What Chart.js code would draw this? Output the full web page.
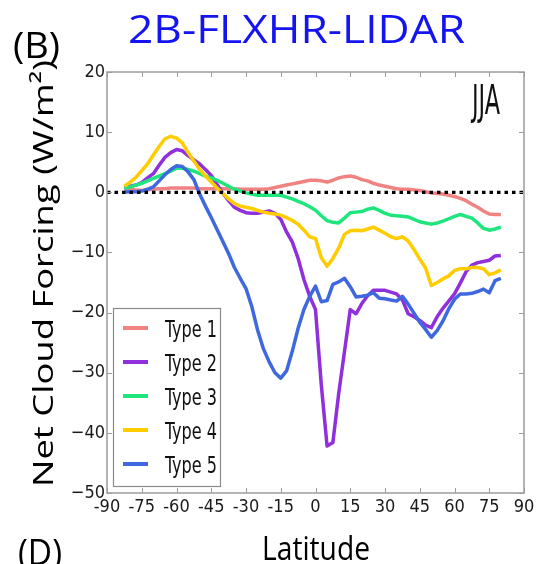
<!DOCTYPE html>
<html>
<head>
<meta charset="utf-8">
<script src="https://cdn.jsdelivr.net/npm/chart.js@4.4.0/dist/chart.umd.min.js"></script>
<style>
  html, body { margin: 0; padding: 0; background: #fff; }
</style>
</head>
<body>
<canvas id="grafico" width="553" height="564"></canvas>
<script>
// Datos (latitud cada 2.5 grados)
const latitudes = [-82.5, -80, -77.5, -75, -72.5, -70, -67.5, -65, -62.5, -60,
  -57.5, -55, -52.5, -50, -47.5, -45, -42.5, -40, -37.5, -35,
  -32.5, -30, -27.5, -25, -22.5, -20, -17.5, -15, -12.5, -10,
  -7.5, -5, -2.5, 0, 2.5, 5, 7.5, 10, 12.5, 15,
  17.5, 20, 22.5, 25, 27.5, 30, 32.5, 35, 37.5, 40,
  42.5, 45, 47.5, 50, 52.5, 55, 57.5, 60, 62.5, 65,
  67.5, 70, 72.5, 75, 77.5, 80];

const tipo1 = [0.6, 0.5, 0.4, 0.3, 0.4, 0.5, 0.6, 0.6, 0.7, 0.7,
  0.7, 0.7, 0.7, 0.6, 0.6, 0.6, 0.6, 0.6, 0.6, 0.6,
  0.5, 0.5, 0.5, 0.5, 0.5, 0.6, 0.8, 1.0, 1.2, 1.4,
  1.6, 1.8, 2.0, 2.0, 1.9, 1.7, 2.0, 2.4, 2.6, 2.7,
  2.5, 2.1, 1.9, 1.5, 1.2, 1.0, 0.8, 0.6, 0.5, 0.5,
  0.4, 0.3, 0.1, -0.1, -0.2, -0.3, -0.5, -0.7, -1.0, -1.4,
  -2.0, -2.5, -3.1, -3.6, -3.7, -3.7];

const tipo2 = [0.7, 1.0, 1.2, 1.6, 2.4, 3.1, 4.5, 5.8, 6.6, 7.1,
  6.9, 6.1, 5.4, 4.7, 3.8, 2.8, 1.3, -0.2, -1.4, -2.5,
  -3.0, -3.4, -3.5, -3.5, -3.3, -3.1, -3.5, -4.5, -6.6, -8.3,
  -11.0, -14.5, -17.3, -19.5, -32.0, -42.2, -41.6, -33.5, -26.5, -19.5,
  -20.2, -18.5, -17.2, -16.3, -16.3, -16.3, -16.6, -16.9, -17.9, -20.2,
  -20.7, -21.3, -22.1, -22.5, -20.7, -19.3, -18.1, -16.9, -15.1, -13.2,
  -12.1, -11.7, -11.5, -11.3, -10.6, -10.5];

const tipo3 = [0.6, 0.9, 1.2, 1.5, 1.9, 2.3, 2.7, 3.1, 3.5, 4.0,
  4.0, 3.8, 3.5, 3.1, 2.7, 2.4, 2.0, 1.5, 1.0, 0.5,
  0.2, -0.1, -0.3, -0.5, -0.5, -0.5, -0.5, -0.5, -0.8, -1.1,
  -1.5, -1.9, -2.4, -3.0, -3.9, -4.7, -5.0, -5.1, -4.3, -3.4,
  -3.3, -3.2, -2.8, -2.6, -3.0, -3.5, -3.8, -3.9, -4.0, -4.1,
  -4.5, -4.9, -5.1, -5.3, -5.1, -4.8, -4.4, -4.0, -3.7, -4.0,
  -4.3, -5.1, -6.0, -6.3, -6.1, -5.8];

const tipo4 = [1.0, 1.7, 2.5, 3.6, 4.7, 6.2, 7.6, 8.9, 9.3, 9.0,
  8.2, 6.6, 5.2, 3.8, 2.7, 1.7, 0.7, -0.2, -1.1, -1.9,
  -2.3, -2.5, -2.7, -3.0, -3.3, -3.5, -3.6, -3.8, -4.2, -4.7,
  -5.3, -6.3, -7.4, -7.7, -10.9, -12.3, -11.0, -9.3, -7.0, -6.4,
  -6.3, -6.4, -6.1, -5.8, -6.3, -6.8, -7.4, -7.7, -7.4, -8.1,
  -9.5, -11.1, -12.6, -15.5, -15.0, -14.4, -13.9, -13.0, -12.7, -12.7,
  -12.5, -12.5, -12.7, -13.7, -13.4, -12.9];

const tipo5 = [0.05, 0.1, 0.1, 0.2, 0.5, 0.9, 1.9, 2.9, 3.8, 4.4,
  4.3, 3.4, 2.1, -0.3, -2.3, -4.2, -6.2, -8.2, -10.2, -12.5,
  -14.3, -16.0, -19.0, -22.9, -26.0, -28.2, -30.0, -30.9, -29.7, -26.4,
  -22.6, -19.5, -17.3, -15.6, -18.2, -18.0, -15.3, -14.9, -14.3, -15.7,
  -17.4, -17.3, -17.1, -16.7, -17.6, -17.7, -17.9, -18.1, -17.3, -18.6,
  -20.1, -21.6, -22.8, -24.1, -23.0, -21.4, -19.4, -17.8, -16.9, -16.9,
  -16.8, -16.5, -16.1, -16.7, -14.7, -14.3];

const nombres = ['Type 1', 'Type 2', 'Type 3', 'Type 4', 'Type 5'];
const series = [tipo1, tipo2, tipo3, tipo4, tipo5];
const colores = ['#f08282', '#9030dc', '#1ee67c', '#ffcc00', '#3f68e0'];

const fuenteEjes = '"Liberation Sans Narrow", "DejaVu Sans Condensed", sans-serif';
const fuenteTexto = '"Open Sans", "DejaVu Sans", sans-serif';

// Texto escalado horizontalmente para ocupar un ancho dado
function textoAjustado(ctx, texto, x, y, fuente, ancho, color, alinear, angulo) {
  ctx.save();
  ctx.font = fuente;
  ctx.fillStyle = color;
  ctx.textAlign = alinear || 'center';
  ctx.textBaseline = 'alphabetic';
  const medido = ctx.measureText(texto).width;
  ctx.translate(x, y);
  if (angulo) ctx.rotate(angulo);
  ctx.scale(ancho / medido, 1);
  ctx.fillText(texto, 0, 0);
  ctx.restore();
}

// Marco, marcas interiores, linea de cero, leyenda y textos
const decoracion = {
  id: 'decoracion',
  afterDatasetsDraw(chart) {
    const ctx = chart.ctx;
    const area = chart.chartArea;
    const x = chart.scales.x;
    const y = chart.scales.y;

    // linea punteada en cero
    const y0 = y.getPixelForValue(0);
    ctx.save();
    ctx.strokeStyle = '#000';
    ctx.lineWidth = 3.2;
    ctx.setLineDash([3.5, 4]);
    ctx.beginPath();
    ctx.moveTo(area.left, y0);
    ctx.lineTo(area.right, y0);
    ctx.stroke();
    ctx.restore();

    // marco y marcas
    ctx.save();
    ctx.strokeStyle = '#9c9c9c';
    ctx.lineWidth = 1.5;
    ctx.strokeRect(area.left, area.top, area.right - area.left, area.bottom - area.top);
    ctx.lineWidth = 1;
    ctx.beginPath();
    x.ticks.forEach(t => {
      const px = Math.round(x.getPixelForValue(t.value)) + 0.5;
      ctx.moveTo(px, area.bottom); ctx.lineTo(px, area.bottom - 5);
      ctx.moveTo(px, area.top); ctx.lineTo(px, area.top + 5);
    });
    y.ticks.forEach(t => {
      const py = Math.round(y.getPixelForValue(t.value)) + 0.5;
      ctx.moveTo(area.left, py); ctx.lineTo(area.left + 5, py);
      ctx.moveTo(area.right, py); ctx.lineTo(area.right - 5, py);
    });
    ctx.stroke();
    ctx.restore();

    // leyenda
    ctx.save();
    ctx.fillStyle = '#fff';
    ctx.fillRect(113.5, 308.5, 107, 178);
    ctx.strokeStyle = '#8a8a8a';
    ctx.lineWidth = 1.2;
    ctx.strokeRect(113.5, 308.5, 107, 178);
    chart.data.datasets.forEach((ds, i) => {
      const fila = 328 + i * 34;
      ctx.strokeStyle = ds.borderColor;
      ctx.lineWidth = 4;
      ctx.beginPath();
      ctx.moveTo(123, fila);
      ctx.lineTo(148, fila);
      ctx.stroke();
      textoAjustado(ctx, ds.label, 165, fila + 8.5, '23px ' + fuenteEjes, 52, '#111', 'left');
    });
    ctx.restore();

    // JJA
    textoAjustado(ctx, 'JJA', 486, 114, '40px ' + fuenteEjes, 28, '#111');
  },
  afterDraw(chart) {
    const ctx = chart.ctx;
    textoAjustado(ctx, '2B-FLXHR-LIDAR', 296.5, 43, '39px ' + fuenteTexto, 337, '#1414f0');
    textoAjustado(ctx, '(B)', 36.5, 58, '37px ' + fuenteTexto, 47, '#000');
    textoAjustado(ctx, '(D)', 40, 565, '37px ' + fuenteTexto, 44, '#000');
    textoAjustado(ctx, 'Latitude', 316, 560, '32px ' + fuenteTexto, 108, '#000');
    textoAjustado(ctx, 'Net Cloud Forcing (W/m\u00B2)', 53, 273.5, '28px ' + fuenteTexto, 427, '#000', 'center', -Math.PI / 2);
  }
};

const ctxGrafico = document.getElementById('grafico').getContext('2d');

new Chart(ctxGrafico, {
  type: 'line',
  data: {
    datasets: series.map((valores, i) => ({
      label: nombres[i],
      data: latitudes.map((lat, j) => ({x: lat, y: valores[j]})),
      borderColor: colores[i],
      borderWidth: 3.5,
      pointRadius: 0,
      tension: 0,
      fill: false,
      borderJoinStyle: 'round',
      order: 4 - i
    }))
  },
  options: {
    responsive: false,
    animation: false,
    devicePixelRatio: 1,
    layout: {
      padding: {left: 0, top: 72, right: 29, bottom: 0}
    },
    plugins: {
      legend: {display: false},
      tooltip: {enabled: false}
    },
    scales: {
      x: {
        type: 'linear',
        min: -90,
        max: 90,
        afterFit: s => { s.height = 71; },
        grid: {display: false, drawTicks: false},
        border: {display: false},
        ticks: {
          stepSize: 15,
          autoSkip: false,
          maxRotation: 0,
          padding: 4,
          color: '#1a1a1a',
          font: {family: fuenteEjes, size: 18}
        }
      },
      y: {
        min: -50,
        max: 20,
        afterFit: s => { s.width = 107; },
        grid: {display: false, drawTicks: false},
        border: {display: false},
        ticks: {
          stepSize: 10,
          padding: 2,
          color: '#1a1a1a',
          font: {family: fuenteEjes, size: 18},
          callback: v => String(v).replace('-', '\u2212')
        }
      }
    }
  },
  plugins: [decoracion]
});
</script>
</body>
</html>
